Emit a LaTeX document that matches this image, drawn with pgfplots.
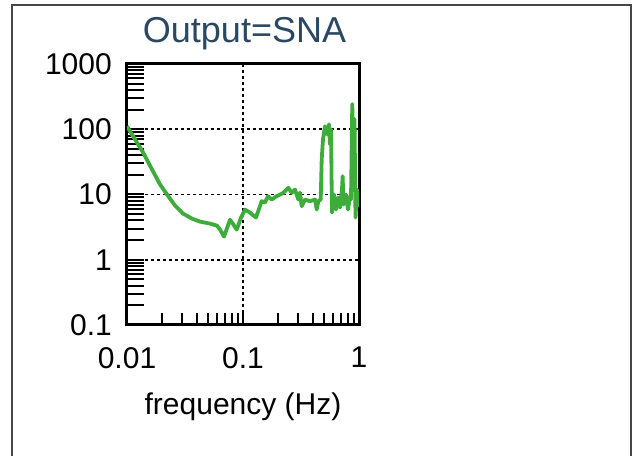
\documentclass[border=0pt]{standalone}
\usepackage{fontspec}
\setmainfont{Liberation Sans}
\usepackage{pgfplots}
\pgfplotsset{compat=1.18}
\definecolor{titleblue}{RGB}{42,72,98}
\definecolor{lgreen}{RGB}{62,172,58}
\definecolor{framegray}{RGB}{70,70,70}
\begin{document}
\begin{tikzpicture}
\useasboundingbox (0,0) rectangle (633bp,456bp);
\draw[framegray, line width=1.4bp] (12bp,-5bp) -- (12bp,451bp) -- (631bp,451bp) -- (631bp,-5bp);
\begin{axis}[
  at={(127bp,131bp)}, anchor=south west,
  scale only axis, width=232bp, height=261bp,
  xmode=log, ymode=log,
  xmin=0.01, xmax=1, ymin=0.1, ymax=1000,
  xtick={0.01,0.1,1}, xticklabels={0.01,0.1,1},
  ytick={0.1,1,10,100,1000}, yticklabels={0.1,1,10,100,1000},
  xtick pos=bottom, ytick pos=left,
  tick align=inside,
  axis line style={line width=3bp, black},
  tick style={black, line width=2bp},
  xtick style={/pgfplots/major tick length=12bp,/pgfplots/minor tick length=12bp},
  ytick style={/pgfplots/major tick length=17bp,/pgfplots/minor tick length=17bp},
  grid=major,
  major grid style={black, line width=1.8bp, dash pattern=on 3bp off 3bp},
  /pgf/number format/assume math mode=true,
  ticklabel style={font=\fontsize{30bp}{36bp}\selectfont, inner sep=0pt},
  xticklabel style={anchor=north, yshift=-22bp},
  yticklabel style={anchor=east, xshift=-15bp},
  title={Output=SNA},
  title style={font=\fontsize{36bp}{42bp}\selectfont, text=titleblue, at={(axis description cs:0.5,1)}, anchor=base, yshift=16bp, xshift=1.5bp, inner sep=0pt},
  xlabel={frequency (Hz)},
  xlabel style={font=\fontsize{30bp}{36bp}\selectfont, at={(axis description cs:0.5,0)}, anchor=base, yshift=-89bp, inner sep=0pt},
]
\addplot[lgreen, line width=3.8bp, line join=round] table {
x y
0.0100 111
0.01172 70.2
0.01374 44.3
0.01642 24.3
0.01924 14.3
0.02214 10.0
0.02594 6.78
0.0304 5.10
0.0363 4.27
0.0426 3.84
0.0520 3.58
0.0597 3.33
0.0634 2.90
0.0686 2.26
0.0773 4.12
0.0883 2.90
0.0962 4.43
0.1041 5.87
0.1148 5.28
0.1294 4.43
0.1449 7.89
0.1548 7.53
0.1643 9.42
0.1768 8.38
0.1952 9.42
0.2225 10.6
0.2458 12.7
0.2629 10.6
0.2808 11.9
0.2999 8.38
0.3099 10.7
0.3205 6.61
0.3423 8.38
0.3784 7.89
0.4178 8.38
0.4318 5.87
0.4460 7.89
0.4677 8.38
0.4769 34.5
0.4893 70.2
0.5092 111
0.5297 83.8
0.5508 119
0.5620 58.8
0.5737 100
0.5848 5.28
0.6083 10
0.6334 5.87
0.6594 8.99
0.6857 6.31
0.7135 11.9
0.7228 19.1
0.7344 7.01
0.7724 10
0.8035 5.87
0.8358 9.31
0.8531 8.38
0.8750 243
0.8970 17.0
0.9146 143
0.9328 4.43
0.9616 11.9
0.9803 7.01
1.0 6.5
};
\end{axis}
\end{tikzpicture}
\end{document}
